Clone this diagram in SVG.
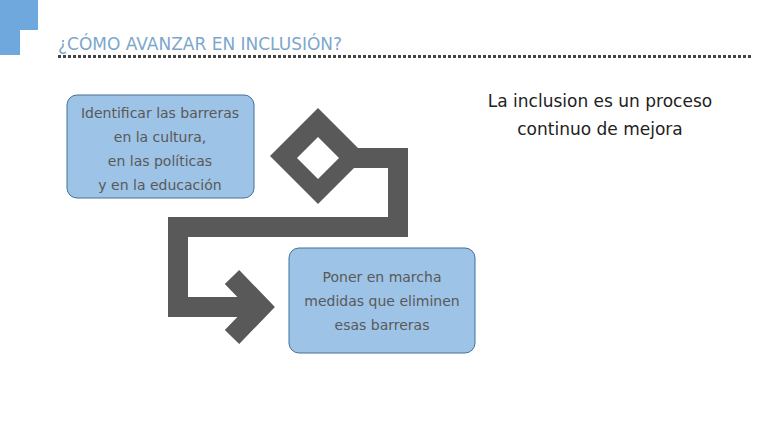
<svg xmlns="http://www.w3.org/2000/svg" width="768" height="432" viewBox="0 0 768 432">
<style>
.box{fill:#9DC3E6;stroke:#41719C;stroke-width:1}
.t{font-family:"DejaVu Sans",sans-serif;font-size:14px;fill:#595959;text-anchor:middle}
.flow{fill:none;stroke:#595959;stroke-width:20;stroke-linejoin:miter}
</style>
<rect width="768" height="432" fill="#fff"/>
<path d="M0 0 H38 V30 H20 V55 H0 Z" fill="#6FA8DC"/>
<text x="58" y="50" font-family="DejaVu Sans,sans-serif" font-size="17" fill="#7BA7CC">¿CÓMO AVANZAR EN INCLUSIÓN?</text>
<line x1="58" y1="56.5" x2="752" y2="56.5" stroke="#444" stroke-width="3" stroke-dasharray="3 2"/>
<g id="connectors">
<path d="M318 108 L366 156 L318 204 L270 156 Z M318 137 L297 158 L318 179 L339 158 Z" fill="#595959" fill-rule="evenodd"/>
<path class="flow" d="M350 158 H398 V227 H178 V307 H258"/>
<polyline class="flow" points="232,277 261,307 232,337" stroke-linejoin="round"/>
</g>
<g id="node1">
<rect class="box" x="67" y="95" width="187" height="103" rx="10"/>
<text class="t" x="160" y="118">Identificar las barreras</text>
<text class="t" x="160" y="142">en la cultura,</text>
<text class="t" x="160" y="166">en las políticas</text>
<text class="t" x="160" y="190">y en la educación</text>
</g>
<g id="node2">
<rect class="box" x="289" y="248" width="186" height="105" rx="10"/>
<text class="t" x="382" y="282">Poner en marcha</text>
<text class="t" x="382" y="306">medidas que eliminen</text>
<text class="t" x="382" y="330">esas barreras</text>
</g>
<g id="note">
<text x="600" y="107" font-family="DejaVu Sans,sans-serif" font-size="17" fill="#222" text-anchor="middle">La inclusion es un proceso</text>
<text x="600" y="135" font-family="DejaVu Sans,sans-serif" font-size="17" fill="#222" text-anchor="middle">continuo de mejora</text>
</g>
</svg>
